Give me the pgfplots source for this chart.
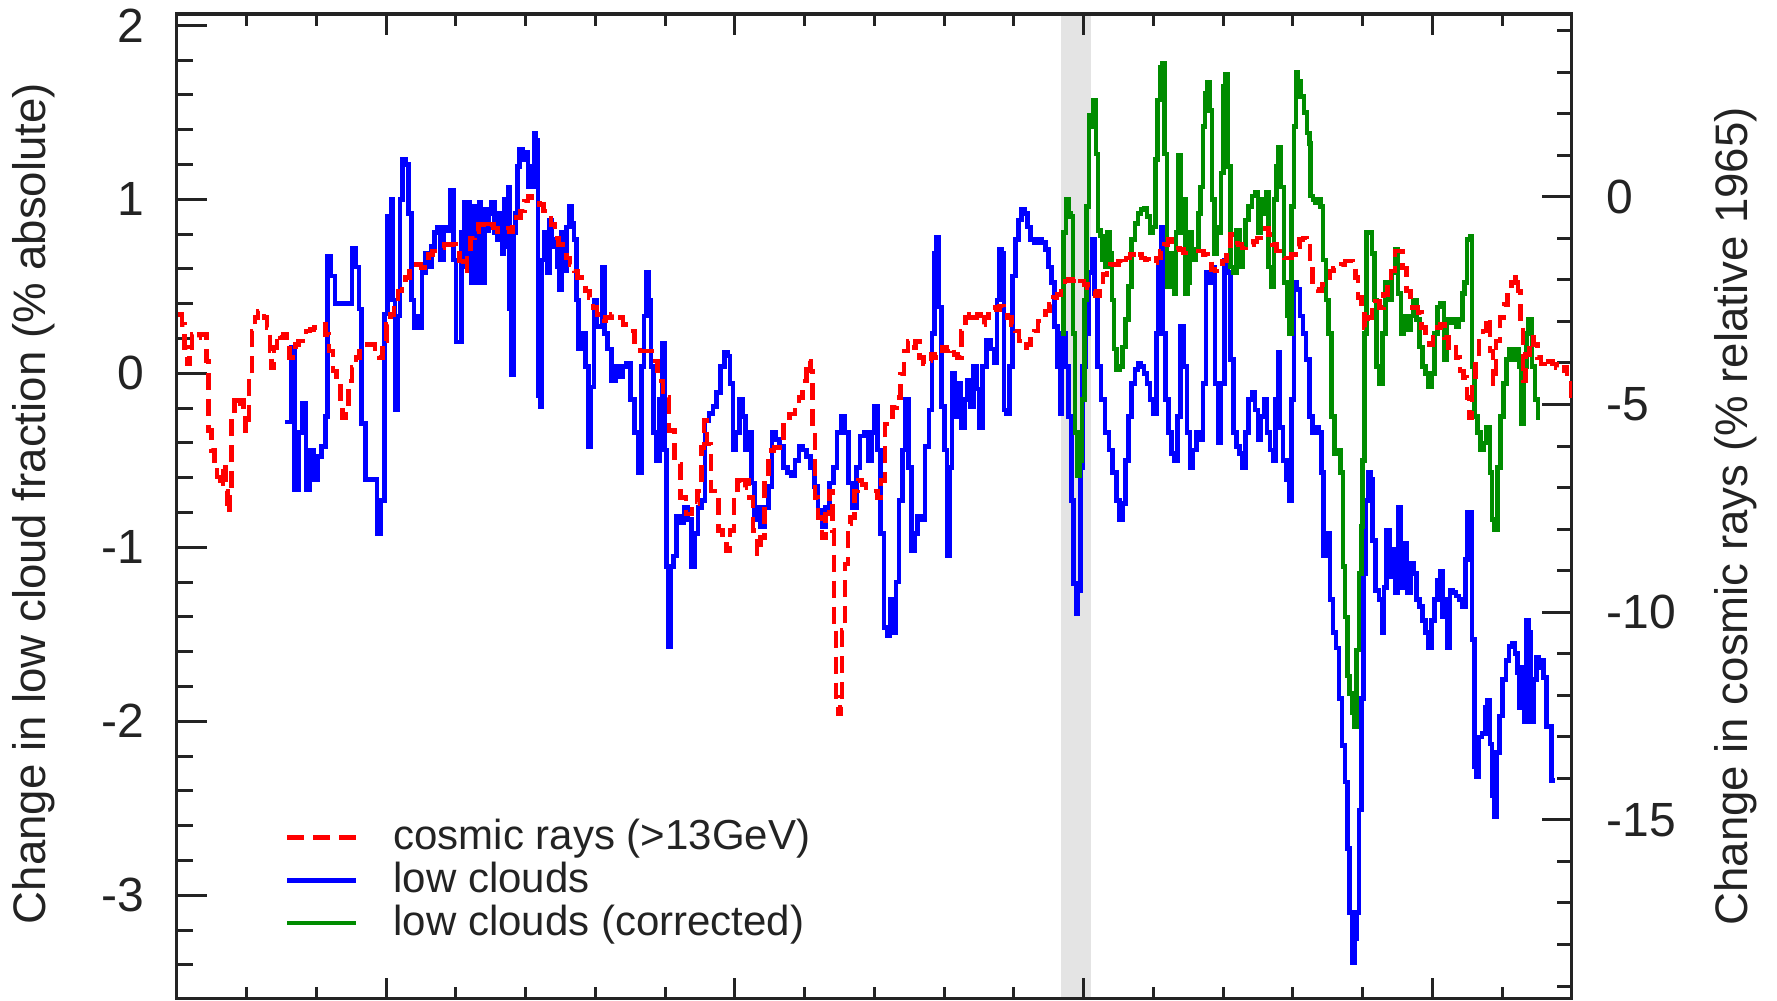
\documentclass[border=0pt]{standalone}
\usepackage{pgfplots}
\pgfplotsset{compat=1.18}
\usepackage{pgfplotstable}
\usepackage{fontspec}
\setmainfont{Liberation Sans}

\definecolor{crred}{RGB}{255,0,0}
\definecolor{lcblue}{RGB}{0,0,255}
\definecolor{lcgreen}{RGB}{0,140,0}
\definecolor{gapgrey}{RGB}{228,228,228}
\definecolor{inkgrey}{RGB}{35,35,35}

% cosmic ray flux (>13 GeV), % relative to 1965
\pgfplotstableread{
year val
1982.018 -2.83
1982.073 -3.07
1982.111 -3.63
1982.155 -4.03
1982.182 -3.71
1982.221 -3.31
1982.276 -3.39
1982.330 -3.31
1982.385 -3.31
1982.429 -3.95
1982.457 -5.63
1982.495 -6.11
1982.539 -6.59
1982.577 -6.75
1982.621 -7.00
1982.660 -6.43
1982.698 -7.08
1982.731 -7.60
1982.758 -7.08
1982.786 -5.23
1982.824 -4.91
1982.868 -5.07
1982.912 -4.91
1982.956 -5.23
1982.989 -5.63
1983.033 -4.27
1983.077 -3.23
1983.120 -2.91
1983.164 -2.75
1983.208 -2.79
1983.252 -2.91
1983.296 -3.15
1983.334 -3.71
1983.362 -4.11
1983.395 -3.63
1983.439 -3.31
1983.482 -3.39
1983.526 -3.31
1983.570 -3.55
1983.614 -3.87
1983.658 -3.71
1983.702 -3.55
1983.746 -3.47
1983.800 -3.31
1983.855 -3.23
1983.910 -3.19
1983.965 -3.15
1984.020 -3.11
1984.075 -3.07
1984.130 -3.31
1984.185 -3.71
1984.239 -4.19
1984.294 -4.51
1984.349 -4.99
1984.376 -5.31
1984.415 -4.99
1984.459 -4.43
1984.513 -4.11
1984.568 -3.87
1984.623 -3.71
1984.678 -3.63
1984.733 -3.55
1984.788 -3.55
1984.843 -3.71
1984.897 -3.87
1984.952 -3.47
1985.007 -3.07
1985.062 -2.83
1985.117 -2.59
1985.172 -2.27
1985.226 -2.11
1985.281 -1.95
1985.336 -1.79
1985.391 -1.63
1985.446 -1.63
1985.501 -1.71
1985.555 -1.55
1985.610 -1.39
1985.665 -1.31
1985.720 -1.31
1985.775 -1.23
1985.830 -1.15
1985.885 -1.15
1985.939 -1.15
1985.994 -1.19
1986.049 -1.55
1986.104 -1.79
1986.159 -1.31
1986.214 -0.99
1986.268 -0.83
1986.323 -0.67
1986.378 -0.67
1986.433 -0.75
1986.488 -0.67
1986.543 -0.75
1986.597 -0.83
1986.652 -0.75
1986.707 -0.75
1986.762 -0.83
1986.817 -0.67
1986.872 -0.50
1986.927 -0.34
1986.981 -0.10
1987.036 0.02
1987.091 -0.02
1987.146 -0.06
1987.201 -0.18
1987.256 -0.34
1987.310 -0.42
1987.365 -0.67
1987.420 -0.99
1987.475 -1.15
1987.530 -1.31
1987.585 -1.47
1987.640 -1.63
1987.695 -1.79
1987.749 -1.95
1987.804 -2.03
1987.859 -2.27
1987.914 -2.43
1987.969 -2.67
1988.024 -2.83
1988.067 -2.99
1988.149 -2.91
1988.232 -2.83
1988.314 -2.91
1988.396 -3.07
1988.478 -3.23
1988.561 -3.55
1988.643 -3.71
1988.725 -3.71
1988.808 -3.95
1988.890 -4.43
1988.972 -4.83
1989.054 -5.63
1989.137 -6.43
1989.219 -7.24
1989.301 -7.64
1989.384 -7.40
1989.466 -7.08
1989.521 -6.03
1989.559 -5.39
1989.603 -5.95
1989.658 -7.08
1989.713 -7.24
1989.767 -8.04
1989.822 -8.20
1989.877 -8.52
1989.932 -8.04
1989.987 -7.24
1990.042 -6.83
1990.096 -7.00
1990.151 -6.83
1990.206 -7.24
1990.261 -8.04
1990.316 -8.60
1990.371 -8.20
1990.426 -6.83
1990.480 -6.11
1990.563 -6.03
1990.645 -5.95
1990.700 -5.31
1990.782 -5.23
1990.864 -4.99
1990.919 -4.83
1990.974 -4.43
1991.029 -3.95
1991.084 -4.19
1991.116 -5.63
1991.150 -7.24
1991.193 -7.72
1991.248 -8.20
1991.303 -7.64
1991.358 -7.08
1991.397 -8.04
1991.424 -10.44
1991.451 -12.04
1991.479 -12.44
1991.512 -12.28
1991.539 -10.44
1991.577 -8.84
1991.621 -7.88
1991.660 -7.72
1991.714 -7.08
1991.769 -6.83
1991.824 -6.92
1991.879 -7.00
1991.934 -7.08
1991.989 -7.08
1992.044 -7.24
1992.098 -6.83
1992.153 -5.47
1992.208 -5.47
1992.263 -5.07
1992.318 -4.83
1992.373 -4.27
1992.428 -3.71
1992.482 -3.47
1992.537 -3.63
1992.592 -3.47
1992.647 -3.87
1992.702 -4.03
1992.757 -3.95
1992.812 -3.79
1992.866 -3.87
1992.921 -3.71
1992.976 -3.63
1993.031 -3.71
1993.086 -3.63
1993.141 -3.79
1993.195 -3.87
1993.250 -3.23
1993.305 -2.91
1993.360 -2.75
1993.415 -2.91
1993.470 -2.83
1993.524 -3.07
1993.579 -2.91
1993.634 -2.75
1993.689 -2.67
1993.744 -2.71
1993.799 -2.63
1993.853 -2.75
1993.908 -2.91
1993.963 -3.07
1994.018 -3.23
1994.073 -3.47
1994.128 -3.63
1994.183 -3.55
1994.237 -3.31
1994.292 -3.23
1994.347 -2.99
1994.402 -2.91
1994.457 -2.75
1994.512 -2.59
1994.567 -2.43
1994.622 -2.35
1994.676 -2.19
1994.731 -2.03
1994.786 -1.99
1994.841 -2.03
1994.896 -2.11
1994.951 -2.03
1995.006 -2.11
1995.060 -2.19
1995.115 -2.27
1995.170 -2.39
1995.225 -2.11
1995.280 -1.87
1995.335 -1.71
1995.389 -1.63
1995.444 -1.63
1995.499 -1.55
1995.554 -1.63
1995.609 -1.47
1995.664 -1.39
1995.718 -1.31
1995.773 -1.39
1995.828 -1.47
1995.883 -1.51
1995.938 -1.55
1995.993 -1.59
1996.047 -1.47
1996.102 -1.31
1996.157 -1.15
1996.212 -1.03
1996.267 -1.07
1996.322 -1.23
1996.377 -1.27
1996.431 -1.35
1996.514 -1.31
1996.596 -1.31
1996.666 -1.31
1996.721 -1.39
1996.776 -1.55
1996.831 -1.75
1996.886 -1.79
1996.940 -1.75
1996.995 -1.55
1997.050 -1.31
1997.105 -0.91
1997.160 -1.11
1997.215 -1.15
1997.269 -1.23
1997.324 -1.15
1997.379 -1.15
1997.434 -1.07
1997.489 -0.99
1997.544 -0.87
1997.599 -0.75
1997.653 -0.91
1997.708 -1.15
1997.763 -1.31
1997.818 -1.43
1997.873 -1.47
1997.928 -1.47
1997.982 -1.39
1998.037 -1.19
1998.092 -1.03
1998.147 -0.99
1998.202 -1.11
1998.246 -1.63
1998.284 -2.11
1998.323 -2.23
1998.366 -2.27
1998.421 -2.11
1998.476 -1.95
1998.531 -1.79
1998.586 -1.71
1998.641 -1.71
1998.695 -1.63
1998.750 -1.55
1998.805 -1.55
1998.860 -1.63
1998.898 -1.95
1998.937 -2.43
1998.981 -2.75
1999.025 -3.15
1999.079 -2.91
1999.134 -2.59
1999.189 -2.51
1999.244 -2.67
1999.299 -2.35
1999.354 -2.19
1999.409 -1.79
1999.463 -1.31
1999.518 -1.31
1999.573 -1.71
1999.628 -2.27
1999.683 -2.67
1999.738 -2.67
1999.792 -2.79
1999.847 -3.15
1999.902 -3.39
1999.957 -3.55
2000.012 -3.31
2000.067 -3.15
2000.121 -3.07
2000.176 -3.39
2000.231 -3.63
2000.286 -3.55
2000.341 -3.87
2000.396 -4.19
2000.451 -4.35
2000.495 -4.83
2000.533 -5.31
2000.571 -4.43
2000.615 -3.87
2000.670 -3.39
2000.725 -3.23
2000.780 -2.91
2000.824 -3.71
2000.868 -4.51
2000.911 -3.47
2000.972 -2.91
2001.027 -2.59
2001.081 -2.27
2001.136 -2.07
2001.191 -1.87
2001.230 -2.27
2001.263 -3.07
2001.301 -4.43
2001.339 -3.79
2001.394 -3.39
2001.449 -3.55
2001.504 -3.87
2001.559 -4.03
2001.613 -4.11
2001.668 -3.95
2001.723 -4.03
2001.778 -4.11
2001.833 -4.19
2001.888 -4.11
2001.932 -4.27
2001.986 -4.91
}\cosmicrays

% low cloud fraction anomaly, % absolute
\pgfplotstableread{
year val
1983.554 -0.28
1983.609 -0.28
1983.636 0.15
1983.691 -0.67
1983.746 -0.34
1983.800 -0.17
1983.855 -0.67
1983.910 -0.44
1983.965 -0.61
1984.020 -0.48
1984.075 -0.42
1984.130 -0.25
1984.157 0.67
1984.212 0.56
1984.267 0.40
1984.349 0.40
1984.431 0.40
1984.513 0.72
1984.568 0.61
1984.612 0.37
1984.651 -0.29
1984.705 -0.61
1984.788 -0.61
1984.870 -0.92
1984.925 -0.73
1984.980 0.34
1985.018 0.90
1985.051 0.42
1985.073 1.00
1985.100 0.42
1985.128 -0.21
1985.161 0.33
1985.199 1.00
1985.237 1.23
1985.281 1.20
1985.325 0.92
1985.364 0.42
1985.402 0.26
1985.446 0.33
1985.484 0.26
1985.517 0.58
1985.567 0.69
1985.610 0.61
1985.649 0.73
1985.693 0.81
1985.731 0.84
1985.775 0.65
1985.830 0.84
1985.885 0.82
1985.923 1.05
1985.967 0.65
1986.005 0.18
1986.049 0.18
1986.082 0.81
1986.115 0.98
1986.142 0.61
1986.170 0.98
1986.197 0.65
1986.225 0.52
1986.252 0.96
1986.280 0.77
1986.307 0.52
1986.334 0.98
1986.362 0.77
1986.389 0.52
1986.417 0.94
1986.444 0.82
1986.477 0.92
1986.515 0.98
1986.554 0.81
1986.597 0.77
1986.630 0.92
1986.663 0.69
1986.691 1.00
1986.718 0.73
1986.746 1.07
1986.773 0.37
1986.801 -0.01
1986.828 0.81
1986.855 0.92
1986.883 1.19
1986.916 1.29
1986.954 1.23
1986.993 1.27
1987.036 1.07
1987.069 1.19
1987.097 1.07
1987.124 1.38
1987.152 1.34
1987.179 -0.13
1987.206 -0.19
1987.234 0.65
1987.267 0.81
1987.311 0.58
1987.343 0.88
1987.376 0.73
1987.420 0.77
1987.453 0.61
1987.486 0.48
1987.519 0.81
1987.552 0.59
1987.585 0.84
1987.629 0.96
1987.662 0.86
1987.695 0.77
1987.727 0.42
1987.760 0.14
1987.804 0.23
1987.859 0.04
1987.903 -0.42
1987.941 -0.08
1987.980 0.42
1988.024 0.27
1988.067 0.27
1988.095 0.61
1988.133 0.23
1988.177 0.14
1988.232 -0.04
1988.287 0.04
1988.341 -0.02
1988.396 0.04
1988.451 0.06
1988.506 -0.15
1988.561 -0.34
1988.616 -0.57
1988.659 0.04
1988.698 0.33
1988.731 0.58
1988.764 0.42
1988.797 0.04
1988.835 -0.34
1988.879 -0.50
1988.917 -0.15
1988.956 0.17
1988.989 -0.44
1989.021 -1.11
1989.049 -1.57
1989.082 -1.11
1989.120 -1.05
1989.164 -0.82
1989.219 -0.86
1989.274 -0.77
1989.329 -0.84
1989.383 -1.11
1989.427 -0.92
1989.471 -0.77
1989.521 -0.73
1989.575 -0.27
1989.630 -0.23
1989.685 -0.19
1989.740 -0.11
1989.795 0.04
1989.850 0.12
1989.894 0.10
1989.932 -0.06
1989.976 -0.44
1990.020 -0.34
1990.064 -0.15
1990.107 -0.25
1990.151 -0.44
1990.195 -0.34
1990.239 -0.63
1990.283 -0.84
1990.327 -0.77
1990.371 -0.88
1990.426 -0.77
1990.480 -0.65
1990.535 -0.34
1990.590 -0.38
1990.645 -0.42
1990.700 -0.54
1990.755 -0.57
1990.810 -0.59
1990.864 -0.50
1990.919 -0.42
1990.974 -0.44
1991.029 -0.48
1991.084 -0.54
1991.139 -0.65
1991.193 -0.79
1991.248 -0.88
1991.303 -0.77
1991.358 -0.63
1991.413 -0.54
1991.468 -0.34
1991.523 -0.25
1991.577 -0.34
1991.632 -0.63
1991.687 -0.77
1991.742 -0.54
1991.797 -0.36
1991.852 -0.34
1991.907 -0.50
1991.961 -0.34
1992.005 -0.19
1992.049 -0.44
1992.093 -0.92
1992.137 -1.46
1992.181 -1.51
1992.225 -1.30
1992.268 -1.49
1992.312 -1.20
1992.356 -0.73
1992.400 -0.44
1992.444 -0.15
1992.488 -0.54
1992.532 -1.02
1992.576 -0.92
1992.620 -0.82
1992.675 -0.84
1992.729 -0.42
1992.784 -0.21
1992.828 0.23
1992.861 0.69
1992.894 0.78
1992.927 0.38
1992.960 -0.19
1993.004 -0.44
1993.042 -1.05
1993.080 -0.54
1993.113 0.00
1993.157 -0.25
1993.201 -0.06
1993.245 -0.31
1993.289 -0.15
1993.333 -0.04
1993.376 -0.19
1993.420 0.04
1993.464 -0.09
1993.508 -0.31
1993.552 0.04
1993.607 0.19
1993.662 0.14
1993.716 0.06
1993.760 0.42
1993.793 0.71
1993.826 0.69
1993.859 -0.21
1993.892 -0.23
1993.936 0.04
1993.979 0.56
1994.024 0.77
1994.067 0.88
1994.111 0.94
1994.155 0.92
1994.199 0.84
1994.243 0.77
1994.287 0.75
1994.342 0.77
1994.397 0.75
1994.451 0.71
1994.495 0.61
1994.539 0.52
1994.583 0.27
1994.627 0.04
1994.660 -0.23
1994.693 0.23
1994.737 0.04
1994.781 -0.25
1994.824 -0.73
1994.857 -1.21
1994.890 -1.38
1994.923 -1.25
1994.956 -0.54
1994.989 0.04
1995.033 0.23
1995.077 0.58
1995.121 0.77
1995.154 0.46
1995.197 0.04
1995.252 -0.15
1995.307 -0.34
1995.362 -0.44
1995.417 -0.57
1995.472 -0.73
1995.515 -0.84
1995.559 -0.75
1995.603 -0.50
1995.647 -0.25
1995.691 -0.06
1995.735 0.02
1995.779 0.06
1995.823 0.04
1995.867 0.00
1995.910 -0.06
1995.954 -0.15
1995.998 -0.23
1996.042 0.23
1996.075 0.61
1996.108 0.84
1996.141 0.23
1996.174 -0.15
1996.218 -0.34
1996.262 -0.46
1996.305 -0.50
1996.349 -0.25
1996.393 0.27
1996.437 0.04
1996.481 -0.34
1996.525 -0.54
1996.569 -0.44
1996.623 -0.34
1996.666 -0.38
1996.710 -0.06
1996.754 0.58
1996.798 0.52
1996.842 0.61
1996.885 -0.06
1996.929 -0.40
1996.973 -0.06
1997.017 0.65
1997.061 0.58
1997.105 0.08
1997.149 -0.34
1997.193 -0.42
1997.237 -0.46
1997.280 -0.54
1997.324 -0.34
1997.368 -0.15
1997.412 -0.11
1997.456 -0.21
1997.500 -0.38
1997.544 -0.25
1997.588 -0.15
1997.631 -0.34
1997.675 -0.44
1997.719 -0.50
1997.752 -0.15
1997.785 0.12
1997.818 -0.31
1997.862 -0.50
1997.906 -0.61
1997.950 -0.73
1997.982 -0.15
1998.015 0.52
1998.059 0.48
1998.103 0.33
1998.147 0.23
1998.191 0.08
1998.235 -0.25
1998.279 -0.34
1998.323 -0.31
1998.366 -0.34
1998.410 -0.57
1998.443 -1.05
1998.487 -0.92
1998.531 -1.30
1998.575 -1.49
1998.619 -1.58
1998.663 -1.87
1998.707 -2.14
1998.750 -2.35
1998.783 -2.73
1998.816 -3.10
1998.849 -3.39
1998.882 -3.25
1998.915 -3.10
1998.948 -2.51
1998.981 -1.87
1999.014 -1.15
1999.047 -0.73
1999.079 -0.57
1999.112 -0.61
1999.145 -0.96
1999.189 -1.25
1999.233 -1.30
1999.277 -1.49
1999.310 -1.23
1999.343 -0.90
1999.386 -1.17
1999.430 -1.01
1999.474 -1.26
1999.507 -0.77
1999.551 -1.23
1999.595 -0.98
1999.639 -1.26
1999.683 -1.09
1999.727 -1.15
1999.771 -1.30
1999.814 -1.34
1999.858 -1.42
1999.902 -1.49
1999.946 -1.58
1999.990 -1.42
2000.034 -1.30
2000.078 -1.19
2000.111 -1.14
2000.144 -1.40
2000.176 -1.30
2000.209 -1.58
2000.253 -1.25
2000.297 -1.26
2000.341 -1.28
2000.385 -1.30
2000.429 -1.34
2000.473 -1.07
2000.505 -0.80
2000.544 -0.80
2000.571 -1.53
2000.604 -2.26
2000.637 -2.32
2000.670 -2.09
2000.714 -2.07
2000.758 -1.92
2000.791 -1.88
2000.824 -2.13
2000.857 -2.43
2000.890 -2.55
2000.922 -2.18
2000.966 -1.97
2001.010 -1.76
2001.054 -1.65
2001.098 -1.57
2001.142 -1.55
2001.186 -1.61
2001.218 -1.72
2001.252 -1.92
2001.284 -1.69
2001.317 -2.00
2001.350 -1.42
2001.383 -1.49
2001.416 -2.00
2001.449 -1.76
2001.493 -1.63
2001.526 -1.69
2001.559 -1.65
2001.591 -1.75
2001.636 -2.03
2001.679 -2.03
2001.712 -2.34
2001.756 -2.34
}\lowclouds

% low cloud fraction after the 1994/95 calibration correction
\pgfplotstableread{
year val
1994.676 0.23
1994.715 0.81
1994.748 1.00
1994.781 0.92
1994.814 0.90
1994.846 0.23
1994.879 -0.34
1994.912 -0.59
1994.945 -0.50
1994.978 -0.15
1995.011 0.42
1995.044 0.96
1995.077 1.48
1995.110 1.42
1995.143 1.57
1995.176 1.26
1995.208 0.82
1995.241 0.79
1995.274 0.65
1995.307 0.61
1995.340 0.81
1995.373 0.69
1995.406 0.42
1995.439 0.14
1995.472 0.02
1995.515 0.04
1995.559 0.15
1995.603 0.31
1995.647 0.50
1995.691 0.77
1995.735 0.86
1995.779 0.92
1995.823 0.94
1995.867 0.95
1995.910 0.90
1995.954 0.81
1995.998 0.84
1996.031 1.23
1996.064 1.57
1996.097 1.76
1996.130 1.78
1996.163 1.26
1996.196 0.50
1996.229 0.69
1996.262 0.61
1996.294 0.46
1996.327 0.81
1996.360 1.25
1996.393 0.81
1996.426 1.00
1996.459 0.46
1996.492 0.52
1996.525 0.81
1996.557 0.65
1996.601 0.71
1996.644 0.92
1996.677 1.07
1996.710 1.42
1996.743 1.61
1996.776 1.67
1996.809 1.51
1996.842 1.00
1996.875 0.69
1996.907 0.84
1996.940 0.81
1996.973 1.15
1997.006 1.65
1997.039 1.72
1997.072 1.19
1997.105 0.61
1997.149 0.58
1997.193 0.82
1997.237 0.61
1997.280 0.73
1997.324 0.88
1997.368 0.96
1997.412 1.02
1997.456 1.04
1997.500 0.81
1997.533 1.00
1997.577 0.92
1997.620 1.04
1997.653 0.61
1997.697 0.50
1997.730 1.00
1997.763 1.19
1997.796 1.30
1997.829 1.07
1997.873 0.52
1997.917 0.33
1997.950 0.23
1997.982 0.96
1998.015 1.42
1998.043 1.73
1998.076 1.68
1998.114 1.59
1998.158 1.50
1998.202 1.38
1998.235 1.32
1998.257 1.02
1998.290 1.00
1998.323 0.98
1998.366 1.00
1998.399 0.96
1998.432 0.65
1998.476 0.42
1998.509 0.23
1998.553 -0.25
1998.597 -0.46
1998.641 -0.44
1998.685 -0.57
1998.718 -1.11
1998.750 -1.40
1998.783 -1.74
1998.816 -1.84
1998.849 -1.95
1998.882 -2.03
1998.915 -1.59
1998.948 -1.15
1998.981 -0.88
1999.003 -0.50
1999.025 0.23
1999.058 0.81
1999.090 0.81
1999.134 0.69
1999.167 0.42
1999.200 0.04
1999.244 -0.06
1999.288 0.23
1999.332 0.52
1999.376 0.42
1999.420 0.58
1999.463 0.71
1999.507 0.46
1999.551 0.23
1999.595 0.33
1999.639 0.25
1999.683 0.33
1999.727 0.42
1999.771 0.31
1999.814 0.15
1999.858 0.04
1999.902 0.00
1999.946 -0.08
1999.990 0.00
2000.034 0.23
2000.078 0.38
2000.121 0.40
2000.165 0.08
2000.209 0.31
2000.253 0.29
2000.297 0.31
2000.341 0.27
2000.385 0.31
2000.429 0.46
2000.462 0.52
2000.495 0.77
2000.539 0.79
2000.571 0.04
2000.604 -0.25
2000.648 -0.34
2000.692 -0.44
2000.736 -0.40
2000.780 -0.31
2000.824 -0.57
2000.857 -0.84
2000.890 -0.90
2000.933 -0.54
2000.977 -0.25
2001.021 -0.06
2001.065 0.08
2001.109 0.14
2001.153 0.08
2001.197 0.14
2001.241 0.04
2001.273 -0.29
2001.306 0.04
2001.350 0.23
2001.383 0.31
2001.427 0.04
2001.471 -0.15
2001.515 -0.27
}\lowcloudscorr

\tikzset{
  ticklab/.style={font=\fontsize{12}{14}\selectfont, text=inkgrey},
  axlab/.style={font=\fontsize{11.4}{13}\selectfont, text=inkgrey},
}
\pgfplotsset{
  panel/.style={
    scale only axis,
    width=348.8pt, height=246.25pt,
    at={(0pt,0pt)}, anchor=south west,
    xmin=1982, xmax=2002,
    tick align=inside,
    axis line style={line width=0.75pt, inkgrey},
    every tick/.style={line width=0.75pt, inkgrey},
  },
}

\begin{document}
\begin{tikzpicture}

% left axis: low cloud fraction
\begin{axis}[panel,
  ymin=-3.596, ymax=2.065,
  xtick=\empty,
  ytick={-3,-2,-1,0,1,2},
  yticklabels={-3,-2,-1,0,1,2},
  minor ytick={-3.4,-3.2,-2.8,-2.6,-2.4,-2.2,-1.8,-1.6,-1.4,-1.2,-0.8,-0.6,-0.4,-0.2,0.2,0.4,0.6,0.8,1.2,1.4,1.6,1.8},
  ytick pos=left,
  major tick length=7.5pt, minor tick length=4pt,
  yticklabel style={ticklab, xshift=-4.6pt},
  ylabel={Change in low cloud fraction (\% absolute)},
  ylabel style={axlab, at={(axis description cs:-0.1023,0.503)}, anchor=center},
]
  \addplot[draw=none, fill=gapgrey, forget plot]
    coordinates {(1994.67,-3.596) (1994.67,2.065) (1995.10,2.065) (1995.10,-3.596)} -- cycle;
  \addplot[const plot, lcblue, line width=1.15pt] table[x=year, y=val] {\lowclouds};
  \addplot[const plot, lcgreen, line width=1.15pt] table[x=year, y=val] {\lowcloudscorr};
\end{axis}

% year ticks along the top and bottom edges (unlabelled)
\begin{axis}[panel,
  ymin=0, ymax=1,
  ytick=\empty,
  xtick={1985,1990,1995,2000},
  minor xtick={1982,1983,...,2002},
  xticklabels={{},{},{},{}},
  xtick pos=both,
  major tick length=5.25pt, minor tick length=3pt,
]
\end{axis}

% right axis: cosmic rays
\begin{axis}[panel,
  axis x line=none, axis y line*=right,
  ymin=-19.31, ymax=4.40,
  ytick={-15,-10,-5,0},
  yticklabels={-15,-10,-5,0},
  minor ytick={-19,-18,...,4},
  major tick length=7.4pt, minor tick length=3.6pt,
  yticklabel style={ticklab, xshift=5.2pt},
  ylabel={Change in cosmic rays (\% relative 1965)},
  ylabel style={axlab, at={(axis description cs:1.1175,0.49)}, anchor=center},
  legend cell align=left,
  legend style={draw=none, fill=none, inner sep=0pt, outer sep=0pt,
    at={(axis description cs:0.0776,0.1847)}, anchor=north west,
    font=\fontsize{10.5}{12}\selectfont, text=inkgrey,
    row sep=0.35pt,
    nodes={inner xsep=0pt, inner ysep=0.6pt},
    /tikz/every odd column/.append style={column sep=8.9pt}},
]
  \addplot[const plot, crred, line width=1.15pt, dash pattern=on 4.25pt off 2.25pt]
    table[x=year, y=val] {\cosmicrays};
  \addlegendentry{cosmic rays (>13GeV)}
  \addlegendimage{lcblue, line width=1.15pt}
  \addlegendentry{low clouds}
  \addlegendimage{lcgreen, line width=1.15pt}
  \addlegendentry{low clouds (corrected)}
\end{axis}

\pgfresetboundingbox
\useasboundingbox (-44.2pt,-0.5pt) rectangle (400.1pt,249.75pt);
\end{tikzpicture}
\end{document}
